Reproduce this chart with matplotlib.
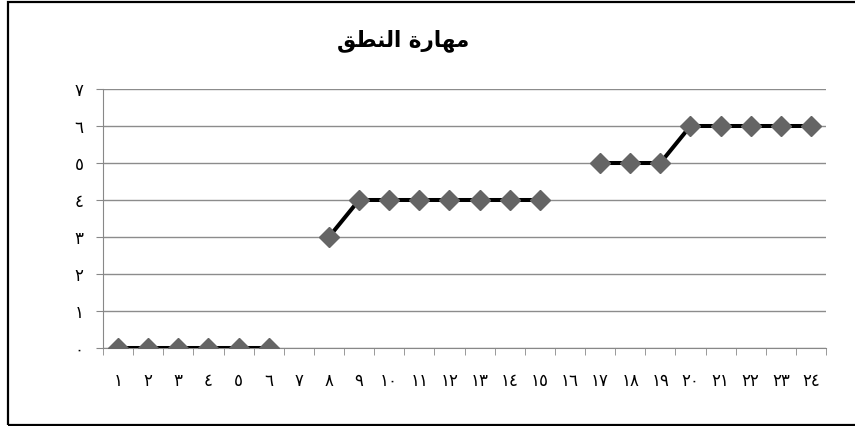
import numpy as np
import matplotlib.pyplot as plt
from matplotlib.patches import Rectangle

# title (pre-shaped arabic, visual order) and eastern arabic digits
title = "\uFED6\uFEC4\uFEE8\uFEDF\uFE8D \uFE93\uFEAD\uFE8E\uFEEC\uFEE3"
digits = "٠١٢٣٤٥٦٧٨٩"

sessions = list(range(1, 25))
scores = [0, 0, 0, 0, 0, 0, np.nan, 3, 4, 4, 4, 4, 4, 4, 4, np.nan,
          5, 5, 5, 6, 6, 6, 6, 6]
yticks = list(range(0, 8))


def ar(n):
    return "".join(digits[int(c)] for c in str(n))


fig = plt.figure(figsize=(8.55, 4.26), dpi=100)
ax = fig.add_axes([103 / 855, 1 - 348 / 426, (826 - 103) / 855, (348 - 89) / 426])

ax.plot(sessions, scores, color="black", lw=2.9, marker="D", ms=10,
        mfc="#656565", mec="#656565", zorder=3)

ax.set_xlim(0.5, 24.5)
ax.set_ylim(0, 7)
ax.set_yticks(yticks)
ax.set_yticklabels([ar(v) for v in yticks], fontsize=12, family="DejaVu Sans")
ax.set_xticks(sessions)
ax.set_xticklabels([ar(v) for v in sessions], fontsize=12, family="DejaVu Sans")
ax.set_xticks(np.arange(0.5, 25, 1), minor=True)
ax.tick_params(axis="x", which="major", length=0, pad=17)
ax.tick_params(axis="x", which="minor", length=5, color="#888888")
ax.tick_params(axis="y", length=5, color="#888888", pad=9)
ax.yaxis.grid(True, color="#8c8c8c", lw=1)
ax.set_axisbelow(True)
for s in ["top", "right"]:
    ax.spines[s].set_visible(False)
for s in ["left", "bottom"]:
    ax.spines[s].set_color("#888888")
ax.spines["left"].set_bounds(0, 7)

fig.text(403 / 855, 1 - 41 / 426, title, ha="center", va="center",
         fontsize=15.5, fontweight="bold", family="DejaVu Sans")

# outer frame
fig.patches.append(Rectangle((7.5 / 855, 1.5 / 426), 1.1, 422.5 / 426,
                             transform=fig.transFigure, fill=False,
                             ec="black", lw=1.6))

fig.savefig("out.png", dpi=100)
